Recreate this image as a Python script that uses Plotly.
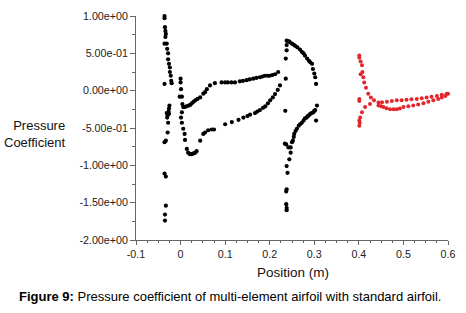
import plotly.graph_objects as go

# Multi-element airfoil (black): slat, main element, flap
slat_x = [-0.036, -0.036, -0.035, -0.034, -0.033, -0.034, -0.036, -0.031, -0.030, -0.028, -0.028,
          -0.026, -0.024, -0.024, -0.022, -0.021, -0.020, -0.036,
          -0.025, -0.026, -0.027, -0.026, -0.029, -0.030, -0.031, -0.028, -0.029, -0.033, -0.036,
          -0.036, -0.033, -0.033, -0.035, -0.035]
slat_y = [1.00, 0.97, 0.85, 0.80, 0.76, 0.72, 0.63, 0.63, 0.56, 0.50, 0.42,
          0.36, 0.31, 0.25, 0.20, 0.13, 0.10, 0.09,
          -0.20, -0.24, -0.28, -0.31, -0.33, -0.36, -0.30, -0.43, -0.56, -0.67, -0.69,
          -1.11, -1.15, -1.54, -1.66, -1.74]

main_x = [0.000, 0.000, 0.001, -0.002, 0.003, 0.004, 0.003, 0.001, 0.003, 0.006, 0.009, 0.010,
          0.014, 0.017, 0.021, 0.025, 0.029, 0.033, 0.036,
          0.044, 0.051, 0.055, 0.062, 0.070, 0.075, 0.100, 0.115, 0.130, 0.141, 0.150, 0.156,
          0.167, 0.172, 0.178, 0.185, 0.190, 0.196, 0.201, 0.207, 0.212, 0.218, 0.223,
          0.006, 0.009, 0.013, 0.018, 0.022, 0.025, 0.029, 0.033, 0.038, 0.044, 0.051, 0.055,
          0.059, 0.066, 0.077, 0.092, 0.100, 0.106, 0.114, 0.122, 0.133, 0.140, 0.148, 0.155,
          0.163, 0.170, 0.178, 0.184, 0.189, 0.195, 0.200, 0.206, 0.212, 0.219]
main_y = [0.16, 0.11, 0.02, -0.08, -0.08, -0.18, -0.29, -0.36, -0.43, -0.51, -0.58, -0.66,
          -0.78, -0.83, -0.85, -0.85, -0.84, -0.83, -0.81,
          -0.67, -0.58, -0.56, -0.53, -0.52, -0.52, -0.45, -0.42, -0.39, -0.36, -0.34, -0.32,
          -0.30, -0.28, -0.26, -0.23, -0.21, -0.17, -0.13, -0.09, -0.045, 0.01, 0.07,
          -0.22, -0.22, -0.21, -0.20, -0.19, -0.17, -0.15, -0.13, -0.11, -0.09, -0.04, -0.02,
          0.02, 0.07, 0.10, 0.11, 0.11, 0.11, 0.11, 0.11, 0.125, 0.13, 0.14, 0.15,
          0.16, 0.17, 0.18, 0.19, 0.20, 0.20, 0.20, 0.21, 0.22, 0.25]

flap_x = [0.238, 0.240, 0.243, 0.245, 0.250, 0.254, 0.257, 0.262, 0.268, 0.272, 0.276, 0.279,
          0.284, 0.288, 0.291, 0.295, 0.297, 0.300, 0.302, 0.304,
          0.238, 0.238, 0.236, 0.236, 0.235,
          0.306, 0.304, 0.302, 0.300, 0.298, 0.294, 0.291, 0.288, 0.285, 0.283, 0.279, 0.276,
          0.272, 0.268, 0.265, 0.261, 0.258, 0.255, 0.254, 0.252, 0.250,
          0.234, 0.237, 0.242, 0.247, 0.247, 0.244, 0.238, 0.240, 0.238, 0.237, 0.237, 0.238, 0.238]
flap_y = [0.67, 0.665, 0.66, 0.65, 0.63, 0.615, 0.60, 0.58, 0.55, 0.52, 0.50, 0.47,
          0.43, 0.40, 0.38, 0.36, 0.29, 0.23, 0.18, 0.09,
          0.61, 0.54, 0.43, 0.16, -0.27,
          -0.20, -0.40, -0.26, -0.27, -0.29, -0.30, -0.31, -0.33, -0.34, -0.36, -0.37, -0.40,
          -0.43, -0.45, -0.47, -0.51, -0.54, -0.58, -0.62, -0.67, -0.69,
          -0.71, -0.72, -0.76, -0.76, -0.83, -0.92, -1.01, -1.10, -1.32, -1.35, -1.52, -1.57, -1.60]

# Standard airfoil (red)
std_x = [0.401, 0.401, 0.404, 0.407, 0.408, 0.404, 0.410, 0.412, 0.416, 0.421, 0.427, 0.434,
         0.401, 0.401,
         0.425, 0.414, 0.407, 0.403, 0.401, 0.401, 0.402,
         0.444, 0.452, 0.463, 0.474, 0.485, 0.496, 0.507, 0.518, 0.530, 0.541, 0.552, 0.563,
         0.575, 0.586, 0.597, 0.600,
         0.444, 0.450, 0.455, 0.462, 0.470, 0.478, 0.485, 0.492, 0.500, 0.511, 0.522, 0.533,
         0.545, 0.556, 0.567, 0.578, 0.586, 0.594, 0.601]
std_y = [0.47, 0.44, 0.39, 0.34, 0.25, 0.22, 0.18, 0.11, 0.04, -0.04, -0.09, -0.13,
         -0.11, -0.14,
         -0.18, -0.22, -0.29, -0.36, -0.40, -0.47, -0.43,
         -0.16, -0.155, -0.15, -0.14, -0.13, -0.13, -0.12, -0.115, -0.11, -0.10, -0.09, -0.08,
         -0.07, -0.055, -0.04, -0.04,
         -0.20, -0.21, -0.22, -0.235, -0.25, -0.25, -0.25, -0.24, -0.22, -0.21, -0.20, -0.185,
         -0.17, -0.15, -0.13, -0.11, -0.09, -0.07, -0.05]

y_ticks = [1.0, 0.5, 0.0, -0.5, -1.0, -1.5, -2.0]
y_labels = ["1.00e+00", "5.00e-01", "0.00e+00", "-5.00e-01", "-1.00e+00", "-1.50e+00", "-2.00e+00"]
x_ticks = [-0.1, 0, 0.1, 0.2, 0.3, 0.4, 0.5, 0.6]
x_labels = ["-0.1", "0", "0.1", "0.2", "0.3", "0.4", "0.5", "0.6"]

black_x = slat_x + main_x + flap_x
black_y = slat_y + main_y + flap_y

fig = go.Figure()
fig.add_trace(go.Scatter(x=black_x, y=black_y, mode="markers",
                         marker=dict(color="#000000", size=4.2), cliponaxis=False))
fig.add_trace(go.Scatter(x=std_x, y=std_y, mode="markers",
                         marker=dict(color="#e3262c", size=4), cliponaxis=False))

font = "Liberation Sans, Arial, sans-serif"
axis_col = "#666666"
fig.update_layout(
    width=466, height=313,
    margin=dict(l=136, r=18, t=16, b=73, autoexpand=False),
    paper_bgcolor="white", plot_bgcolor="white",
    showlegend=False,
    font=dict(family=font, size=10.7, color="#222222"),
    xaxis=dict(range=[-0.1, 0.6], tickvals=x_ticks, ticktext=x_labels,
               showgrid=False, zeroline=False, showline=True, linecolor=axis_col, linewidth=1,
               ticks="outside", ticklen=4, tickcolor=axis_col, automargin=False,
               minor=dict(dtick=0.025, ticks="outside", ticklen=2, tickcolor=axis_col),
               tickfont=dict(size=10.7)),
    yaxis=dict(range=[-2.0, 1.0], tickvals=y_ticks, ticktext=y_labels,
               showgrid=False, zeroline=False, showline=True, linecolor=axis_col, linewidth=1,
               ticks="outside", ticklen=5, tickcolor=axis_col, automargin=False,
               minor=dict(dtick=0.25, ticks="outside", ticklen=3, tickcolor=axis_col),
               tickfont=dict(size=10.7)),
    annotations=[
        dict(text="Pressure<br>Coefficient", xref="paper", yref="paper", x=-0.218, y=0.473,
             xanchor="right", yanchor="middle", align="right", showarrow=False,
             font=dict(size=13, color="#111111")),
        dict(text="Position (m)", xref="paper", yref="paper", x=0.503, y=-0.146,
             xanchor="center", yanchor="middle", showarrow=False,
             font=dict(size=13.5, color="#111111")),
        dict(text="<b>Figure 9:</b> Pressure coefficient of multi-element airfoil with standard airfoil.",
             xref="paper", yref="paper", x=0.301, y=-0.25,
             xanchor="center", yanchor="middle", showarrow=False,
             font=dict(size=13, color="#000000")),
    ],
)

fig.write_html("out.html", config={"displayModeBar": False},
               post_script="document.body.style.margin='0px';document.body.style.padding='0px';")
